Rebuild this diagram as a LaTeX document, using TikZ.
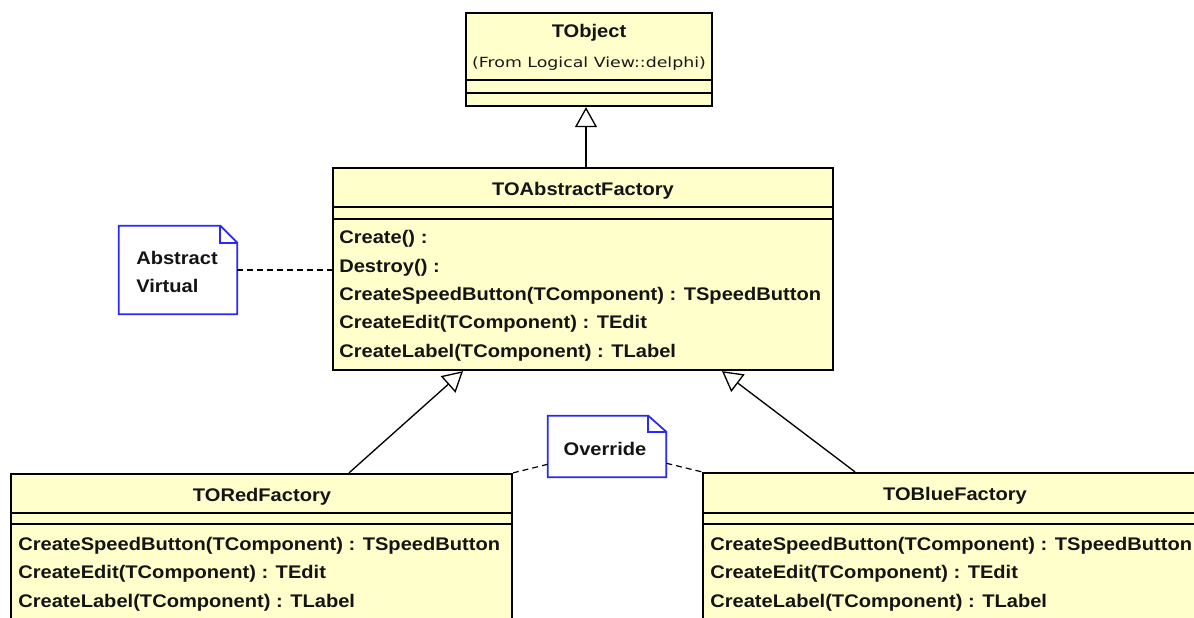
\documentclass[tikz,border=0pt]{standalone}
\usepackage{fontspec}
\setmainfont{Liberation Sans}[FakeStretch=1.10]
\newfontfamily\stereofont{DejaVu Sans}[FakeStretch=1.24]
\usetikzlibrary{arrows.meta,fit,calc}
\definecolor{clsfill}{RGB}{255,255,204}
\definecolor{noteblue}{RGB}{40,40,250}

\begin{document}
\begin{tikzpicture}[x=0.75pt,y=-0.75pt,
  cls/.style={draw=black, line width=1.7pt, fill=clsfill, inner sep=0pt},
  sepline/.style={line width=1.7pt},
  ttl/.style={font=\fontsize{13.7pt}{16pt}\selectfont\bfseries, anchor=base, inner sep=0pt, text=black!92},
  op/.style={font=\fontsize{13.7pt}{16pt}\selectfont\bfseries, anchor=base west, inner sep=0pt, text=black!92},
  stereo/.style={font=\stereofont\fontsize{10.5pt}{12pt}\selectfont, anchor=base, inner sep=0pt, text=black!90},
  generalize/.style={line width=1pt, -{Triangle[fill=white, length=15pt, width=16.5pt]}},
  notelink/.style={line width=0.9pt, dash pattern=on 4.5pt off 3pt},
  noteframe/.style={draw=noteblue, line width=1.3pt, fill=white, line join=miter},
  noteholder/.style={inner sep=0pt}
]
\useasboundingbox (0,0) rectangle (1194,617);
\fill[white] (0,0) rectangle (1194,617);
\clip (0,0) rectangle (1194,617);

% ---------- TObject ----------
\node[cls, fit={(466,13) (712,106)}] (tobject) {};
\draw[sepline] (tobject.west |- 0,80) -- (tobject.east |- 0,80);
\draw[sepline] (tobject.west |- 0,93) -- (tobject.east |- 0,93);
\node[ttl] (tobjname) at (589,38) {TObject};
\node[stereo] (tobjfrom) at (589,68) {(From Logical View::delphi)};

% ---------- TOAbstractFactory ----------
\node[cls, fit={(333,168) (833,370)}] (abs) {};
\draw[sepline] (abs.west |- 0,207) -- (abs.east |- 0,207);
\draw[sepline] (abs.west |- 0,219) -- (abs.east |- 0,219);
\node[ttl] (absname) at (583,195) {TOAbstractFactory};
\node[op] (absop1) at (339,243) {Create() :};
\node[op] (absop2) at (339,272) {Destroy() :};
\node[op] (absop3) at (339,300) {CreateSpeedButton(TComponent) : TSpeedButton};
\node[op] (absop4) at (339,328) {CreateEdit(TComponent) : TEdit};
\node[op] (absop5) at (339,357) {CreateLabel(TComponent) : TLabel};

% ---------- TORedFactory ----------
\node[cls, fit={(11,474) (512,650)}] (red) {};
\draw[sepline] (red.west |- 0,513) -- (red.east |- 0,513);
\draw[sepline] (red.west |- 0,524) -- (red.east |- 0,524);
\node[ttl] (redname) at (262,501) {TORedFactory};
\node[op] (redop1) at (18,550) {CreateSpeedButton(TComponent) : TSpeedButton};
\node[op] (redop2) at (18,578) {CreateEdit(TComponent) : TEdit};
\node[op] (redop3) at (18,607) {CreateLabel(TComponent) : TLabel};

% ---------- TOBlueFactory (runs past the right edge) ----------
\node[cls, fit={(703,473) (1300,650)}] (blue) {};
\draw[sepline] (blue.west |- 0,513) -- (blue.east |- 0,513);
\draw[sepline] (blue.west |- 0,524) -- (blue.east |- 0,524);
\node[ttl] (bluename) at (955,500) {TOBlueFactory};
\node[op] (blueop1) at (710,550) {CreateSpeedButton(TComponent) : TSpeedButton};
\node[op] (blueop2) at (710,578) {CreateEdit(TComponent) : TEdit};
\node[op] (blueop3) at (710,607) {CreateLabel(TComponent) : TLabel};

% ---------- generalizations ----------
\draw[generalize] (abs.north -| 586,0) -- (tobject.south -| 586,0);
\draw[generalize] (red.north -| 349,0) -- (abs.south -| 463,0);
\draw[generalize] (blue.north -| 855,0) -- (abs.south -| 722,0);

% ---------- note: Abstract / Virtual ----------
\node[noteholder, fit={(119,226) (237,314)}] (absnote) {};
\draw[noteframe] (absnote.north west) -- ($(absnote.north east)+(-17,0)$)
  -- ($(absnote.north east)+(0,17)$) -- (absnote.south east)
  -- (absnote.south west) -- cycle;
\draw[noteblue, line width=1.3pt] ($(absnote.north east)+(-17,0)$)
  -- ($(absnote.north east)+(-17,17)$) -- ($(absnote.north east)+(0,17)$);
\node[op] (absnote1) at (136,264) {Abstract};
\node[op] (absnote2) at (136,292) {Virtual};
\draw[notelink] (absnote.east |- 0,270) -- (abs.west |- 0,270);

% ---------- note: Override ----------
\node[noteholder, fit={(548,416) (666,477)}] (ovrnote) {};
\draw[noteframe] (ovrnote.north west) -- ($(ovrnote.north east)+(-18,0)$)
  -- ($(ovrnote.north east)+(0,16)$) -- (ovrnote.south east)
  -- (ovrnote.south west) -- cycle;
\draw[noteblue, line width=1.3pt] ($(ovrnote.north east)+(-18,0)$)
  -- ($(ovrnote.north east)+(-18,16)$) -- ($(ovrnote.north east)+(0,16)$);
\node[ttl] (ovrtext) at (605,455) {Override};
\draw[notelink] ($(ovrnote.south west)+(0,-13)$) -- (red.north east);
\draw[notelink] ($(ovrnote.south east)+(0,-14)$) -- (blue.north west);
\end{tikzpicture}
\end{document}
